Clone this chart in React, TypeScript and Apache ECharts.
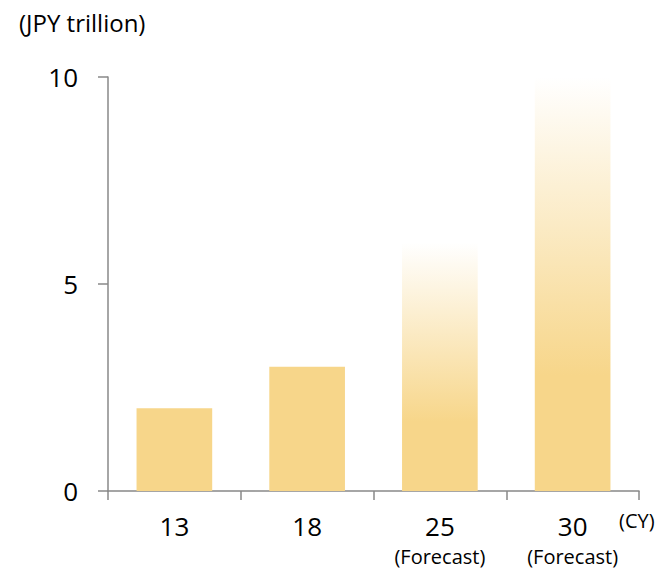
import React, { useEffect, useRef } from "react";
import * as echarts from "echarts";

// Calendar years on the category axis
const years = ["13", "18", "25", "30"];
// Market size, JPY trillion
const values = [2, 3, 6, 10];
// Which years are forecasts (drawn with a fading bar)
const isForecast = [false, false, true, true];
// Value axis ticks
const yTicks = [0, 5, 10];

const FONT = "'Open Sans', 'Noto Sans', sans-serif";
const BAR = "#F7D68A";
const AXIS = "#888888";

export default function App() {
  const ref = useRef<HTMLDivElement>(null);

  useEffect(() => {
    if (!ref.current) return;
    const chart = echarts.init(ref.current, undefined, { renderer: "svg" });

    const fade = new echarts.graphic.LinearGradient(0, 0, 0, 1, [
      { offset: 0, color: "rgba(247,214,138,0)" },
      { offset: 0.72, color: "rgba(247,214,138,1)" },
      { offset: 1, color: "rgba(247,214,138,1)" },
    ]);

    chart.setOption({
      animation: false,
      grid: { left: 108, right: 29, top: 77, bottom: 79, containLabel: false },
      graphic: [
        {
          type: "text",
          left: 19,
          top: 10,
          style: { text: "(JPY trillion)", font: `24px ${FONT}`, fill: "#000" },
        },
        {
          type: "text",
          left: 619,
          top: 510,
          style: { text: "(CY)", font: `20px ${FONT}`, fill: "#000" },
        },
      ],
      xAxis: {
        type: "category",
        data: years,
        boundaryGap: true,
        axisLine: { show: true, lineStyle: { color: AXIS, width: 1.5 } },
        axisTick: { show: true, length: 9, lineStyle: { color: AXIS, width: 1.5 } },
        axisLabel: {
          margin: 17,
          formatter: (v: string, i: number) =>
            isForecast[i] ? `{y|${v}}\n{f|(Forecast)}` : `{y|${v}}`,
          rich: {
            y: { fontFamily: FONT, fontSize: 26, color: "#000", lineHeight: 36 },
            f: { fontFamily: FONT, fontSize: 20, color: "#000", lineHeight: 25 },
          },
        },
      },
      yAxis: {
        type: "value",
        min: yTicks[0],
        max: yTicks[yTicks.length - 1],
        interval: yTicks[1] - yTicks[0],
        splitLine: { show: false },
        axisLine: { show: true, lineStyle: { color: AXIS, width: 1.5 } },
        axisTick: { show: true, length: 10, lineStyle: { color: AXIS, width: 1.5 } },
        axisLabel: { margin: 30, fontFamily: FONT, fontSize: 26, color: "#000" },
      },
      series: [
        {
          type: "bar",
          barWidth: "57%",
          data: values.map((v, i) => ({
            value: v,
            itemStyle: { color: isForecast[i] ? fade : BAR },
          })),
        },
      ],
    });

    return () => chart.dispose();
  }, []);

  return <div ref={ref} style={{ width: 668, height: 570, position: "absolute", left: 0, top: 0 }} />;
}
